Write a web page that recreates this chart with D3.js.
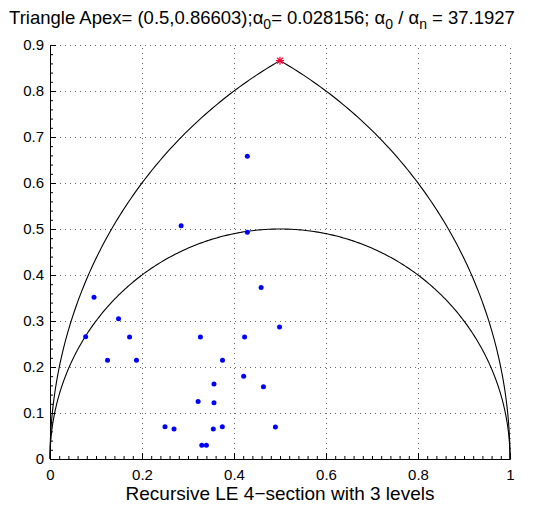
<!DOCTYPE html>
<html>
<head>
<meta charset="utf-8">
<script src="https://cdn.jsdelivr.net/npm/d3@7"></script>
<style>
  body { margin: 0; background: #fff; }
  text { font-family: "Liberation Sans", Arial, sans-serif; }
</style>
</head>
<body>
<div id="chart"></div>
<script>
const xTicks = [0, 0.2, 0.4, 0.6, 0.8, 1];
const yTicks = [0, 0.1, 0.2, 0.3, 0.4, 0.5, 0.6, 0.7, 0.8, 0.9];
const apex = [0.5, 0.86603];

// sample points (x, y)
const pointsX = [0.0775, 0.0957, 0.149, 0.173, 0.125, 0.188, 0.285, 0.429, 0.429, 0.459,
  0.499, 0.327, 0.423, 0.375, 0.421, 0.3565, 0.464, 0.322, 0.3565, 0.25,
  0.2696, 0.355, 0.3746, 0.49, 0.330, 0.340];
const pointsY = [0.266, 0.3514, 0.305, 0.265, 0.2145, 0.2145, 0.507, 0.493, 0.658, 0.373,
  0.287, 0.265, 0.265, 0.2145, 0.180, 0.163, 0.157, 0.125, 0.1225, 0.070,
  0.065, 0.065, 0.070, 0.0696, 0.030, 0.030];

const width = 549, height = 506;
const margin = { left: 50, right: 39, top: 45, bottom: 47 };
const font = "Liberation Sans, Arial, sans-serif";

const svg = d3.select("#chart").append("svg")
  .attr("width", width)
  .attr("height", height);

const x = d3.scaleLinear().domain([0, 1]).range([margin.left, width - margin.right]);
const y = d3.scaleLinear().domain([0, 0.9]).range([height - margin.bottom, margin.top]);

/* dotted grid */
const grid = svg.append("g")
  .attr("stroke", "#666")
  .attr("stroke-width", 1)
  .attr("stroke-dasharray", "1,4");
grid.selectAll(".gx").data(xTicks.slice(1)).join("line")
  .attr("x1", d => Math.round(x(d)) + 0.5).attr("x2", d => Math.round(x(d)) + 0.5)
  .attr("y1", y(0)).attr("y2", y(0.9));
grid.selectAll(".gy").data(yTicks.slice(1)).join("line")
  .attr("x1", x(0)).attr("x2", x(1))
  .attr("y1", d => Math.round(y(d)) + 0.5).attr("y2", d => Math.round(y(d)) + 0.5);

/* axes (left and bottom only, ticks pointing inward) */
const minorX = d3.range(0, 1.0001, 0.02);
const minorY = d3.range(0, 0.9001, 0.02);

const xAxis = svg.append("g").attr("transform", `translate(0,${y(0)})`);
xAxis.call(d3.axisBottom(x).tickValues(minorX).tickSize(-3).tickFormat(""))
  .call(g => g.select(".domain").remove());
xAxis.append("g")
  .call(d3.axisBottom(x).tickValues(xTicks).tickSize(-6).tickPadding(10).tickFormat(d3.format("")))
  .call(g => g.selectAll("text").attr("font-size", 15).attr("fill", "#000")
    .attr("font-family", font));

const yAxis = svg.append("g").attr("transform", `translate(${x(0)},0)`);
yAxis.call(d3.axisLeft(y).tickValues(minorY).tickSize(-3).tickFormat(""))
  .call(g => g.select(".domain").remove());
yAxis.append("g")
  .call(d3.axisLeft(y).tickValues(yTicks).tickSize(-6).tickPadding(6).tickFormat(d3.format("")))
  .call(g => g.selectAll("text").attr("font-size", 15).attr("fill", "#000")
    .attr("font-family", font));

svg.selectAll(".domain").attr("stroke", "#000");
svg.selectAll(".tick line").attr("stroke", "#000");

/* curves: outer arcs to the apex and the inner semicircle */
const line = d3.line().x(d => x(d[0])).y(d => y(d[1]));
const tOuter = d3.range(0, 60.001, 0.5).map(a => a * Math.PI / 180);
const leftArc = tOuter.map(t => [1 - Math.cos(t), Math.sin(t)]);
const rightArc = tOuter.map(t => [Math.cos(t), Math.sin(t)]);
const inner = d3.range(0, 180.001, 0.5).map(a => a * Math.PI / 180)
  .map(t => [0.5 - 0.5 * Math.cos(t), 0.5 * Math.sin(t)]);

svg.append("g")
  .attr("fill", "none")
  .attr("stroke", "#000")
  .attr("stroke-width", 1.1)
  .selectAll("path")
  .data([leftArc, rightArc, inner])
  .join("path")
  .attr("d", line);

/* points */
svg.append("g")
  .selectAll("circle")
  .data(pointsX.map((d, i) => [d, pointsY[i]]))
  .join("circle")
  .attr("cx", d => x(d[0]))
  .attr("cy", d => y(d[1]))
  .attr("r", 2.5)
  .attr("fill", "#0000ff");

/* apex marker (asterisk) */
const star = svg.append("g")
  .attr("transform", `translate(${x(apex[0])},${y(apex[1])})`)
  .attr("stroke", "#ff0033")
  .attr("stroke-width", 1.2);
[0, 45, 90, 135].forEach(a => {
  const r = 4, t = a * Math.PI / 180;
  star.append("line")
    .attr("x1", -r * Math.cos(t)).attr("y1", -r * Math.sin(t))
    .attr("x2", r * Math.cos(t)).attr("y2", r * Math.sin(t));
});

/* title */
const title = svg.append("text")
  .attr("x", 262)
  .attr("y", 24)
  .attr("text-anchor", "middle")
  .attr("font-size", 18.5)
  .attr("fill", "#000");
title.append("tspan").text("Triangle Apex= (0.5,0.86603);\u03B1");
title.append("tspan").attr("dy", 5).attr("font-size", 14).text("0");
title.append("tspan").attr("dy", -5).text("= 0.028156; \u03B1");
title.append("tspan").attr("dy", 5).attr("font-size", 14).text("0");
title.append("tspan").attr("dy", -5).text(" / \u03B1");
title.append("tspan").attr("dy", 5).attr("font-size", 14).text("n");
title.append("tspan").attr("dy", -5).text(" = 37.1927");

/* x label */
svg.append("text")
  .attr("x", 280)
  .attr("y", 500)
  .attr("text-anchor", "middle")
  .attr("font-size", 19)
  .attr("fill", "#000")
  .text("Recursive LE 4\u2212section with 3 levels");
</script>
</body>
</html>
